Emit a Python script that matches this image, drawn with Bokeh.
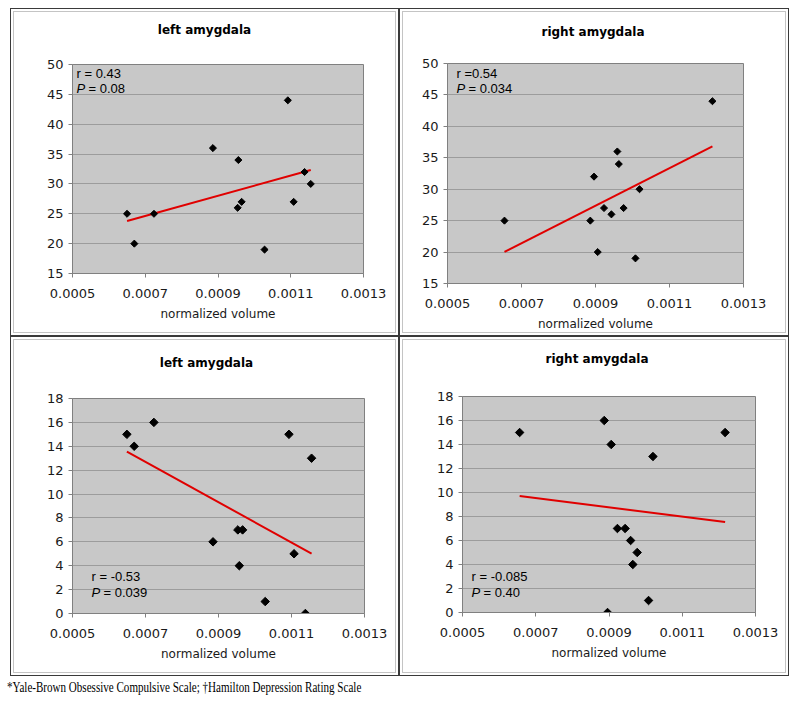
import numpy as np
from bokeh.plotting import figure
from bokeh.models import Range1d, FixedTicker, PrintfTickFormatter, Label, Div
from bokeh.layouts import column, row
from bokeh.embed import file_html
from bokeh.resources import INLINE

# ---------------- data ----------------
panel_titles = ["left amygdala", "right amygdala", "left amygdala", "right amygdala"]
x_axis_label = "normalized volume"
x_ticks = [0.0005, 0.0007, 0.0009, 0.0011, 0.0013]
ybocs_ticks = [15, 20, 25, 30, 35, 40, 45, 50]
hamd_ticks = [0, 2, 4, 6, 8, 10, 12, 14, 16, 18]

# Y-BOCS vs left amygdala volume
left_vol_ybocs = [0.000650, 0.000670, 0.000724, 0.000886, 0.000954, 0.000956,
                  0.000965, 0.001028, 0.001092, 0.001108, 0.001138, 0.001155]
left_ybocs = [25, 20, 25, 36, 26, 34, 27, 19, 44, 27, 32, 30]

# Y-BOCS vs right amygdala volume
right_vol_ybocs = [0.000654, 0.000886, 0.000896, 0.000906, 0.000923, 0.000943,
                   0.000959, 0.000963, 0.000976, 0.001008, 0.001019, 0.001216]
right_ybocs = [25, 25, 32, 20, 27, 26, 36, 34, 27, 19, 30, 44]

# HAM-D vs left amygdala volume
left_vol_hamd = [0.000649, 0.000669, 0.000723, 0.000885, 0.000953, 0.000957,
                 0.000966, 0.001028, 0.001093, 0.001107, 0.001138, 0.001155]
left_hamd = [15, 14, 16, 6, 7, 4, 7, 1, 15, 5, 0, 13]

# HAM-D vs right amygdala volume
right_vol_hamd = [0.000656, 0.000887, 0.000896, 0.000906, 0.000923, 0.000944,
                  0.000959, 0.000965, 0.000977, 0.001008, 0.001020, 0.001217]
right_hamd = [15, 16, 0, 14, 7, 7, 6, 4, 5, 1, 13, 15]

r_texts = ["r = 0.43", "r =0.54", "r = -0.53", "r = -0.085"]
p_texts = ["= 0.08", "= 0.034", "= 0.039", "= 0.40"]

footer_text = "*Yale-Brown Obsessive Compulsive Scale; \u2020Hamilton Depression Rating Scale"

# ---------------- styling ----------------
FRAME_BG = "#c8c8c8"
GRID = "#9c9c9c"
AXIS = "#808080"
TREND = "#e00000"
BOX_STYLE = {
    "outline": "1px solid #3a3a3a",
    "outline-offset": "-1px",
    "box-shadow": "inset 0 0 0 3px #ffffff, inset 0 0 0 4px #c4c4c4",
}
TITLE_H = 40


def make_panel(w, h, mb, xs, ys, yticks, title, title_dx, title_cy,
               r_txt, p_txt, corner, ann_dx, ann_dy1, ann_dy2, msize):
    ml, mr, mt, mbot = mb
    p = figure(width=w, height=h - TITLE_H, output_backend="svg", toolbar_location=None,
               x_range=Range1d(x_ticks[0], x_ticks[-1]),
               y_range=Range1d(yticks[0], yticks[-1]),
               min_border_left=ml, min_border_right=mr,
               min_border_top=mt - TITLE_H, min_border_bottom=mbot)
    p.border_fill_color = None
    p.background_fill_color = FRAME_BG
    p.outline_line_color = AXIS
    p.outline_line_width = 1

    p.xgrid.visible = False
    p.ygrid.grid_line_color = GRID
    p.ygrid.grid_line_width = 1

    p.xaxis.ticker = FixedTicker(ticks=x_ticks)
    p.xaxis.formatter = PrintfTickFormatter(format="%.4f")
    p.yaxis.ticker = FixedTicker(ticks=yticks)
    p.ygrid.ticker = FixedTicker(ticks=yticks)
    for ax in (p.xaxis, p.yaxis):
        ax.axis_line_color = AXIS
        ax.major_tick_line_color = AXIS
        ax.major_tick_out = 4
        ax.major_tick_in = 0
        ax.minor_tick_line_color = None
        ax.major_label_text_font = "DejaVu Sans"
        ax.major_label_text_font_size = "13px"
        ax.major_label_text_color = "#1a1a1a"
    p.yaxis.major_label_standoff = 5
    p.xaxis.major_label_standoff = 11
    p.xaxis.axis_label = x_axis_label
    p.xaxis.axis_label_text_font = "DejaVu Sans"
    p.xaxis.axis_label_text_font_size = "12px"
    p.xaxis.axis_label_text_font_style = "normal"
    p.xaxis.axis_label_text_color = "#1a1a1a"
    p.xaxis.axis_label_standoff = 6

    # trend line (least squares) over the data span
    coef = np.polyfit(np.array(xs), np.array(ys), 1)
    xfit = np.array([min(xs), max(xs)])
    p.line(xfit, np.polyval(coef, xfit), line_color=TREND, line_width=2)

    p.scatter(xs, ys, marker="square", angle=np.pi / 4, size=msize, color="black")

    if corner == "top":
        ya, s = yticks[-1], -1
    else:
        ya, s = yticks[0], 1
    common = dict(x=x_ticks[0], y=ya, text_font="Liberation Sans",
                  text_font_size="13px", text_baseline="middle",
                  text_align="left", text_color="black")
    p.add_layout(Label(x_offset=ann_dx, y_offset=s * ann_dy1, text=r_txt, **common))
    p.add_layout(Label(x_offset=ann_dx, y_offset=s * ann_dy2, text="P",
                       text_font_style="italic", **common))
    p.add_layout(Label(x_offset=ann_dx + 12, y_offset=s * ann_dy2, text=p_txt, **common))

    head = Div(text=('<div style="width:%dpx;height:%dpx;box-sizing:border-box;'
                     'padding-top:%dpx;text-align:center;position:relative;left:%dpx;'
                     'font-family:\'DejaVu Sans\',Verdana,sans-serif;font-weight:bold;'
                     'font-size:12px;line-height:14px;color:#000;white-space:nowrap;">%s</div>')
                    % (w, TITLE_H, title_cy - 7, title_dx, title),
               width=w, height=TITLE_H, margin=0)
    return column(head, p, styles=BOX_STYLE, margin=0, spacing=0)


c1 = make_panel(389, 328, (62, 36, 56, 63), left_vol_ybocs, left_ybocs, ybocs_ticks,
                panel_titles[0], 0, 22, r_texts[0], p_texts[0], "top", 4, 9, 24, 5)
c2 = make_panel(390, 328, (48, 46, 55, 53), right_vol_ybocs, right_ybocs, ybocs_ticks,
                panel_titles[1], -1, 24, r_texts[1], p_texts[1], "top", 9, 10, 25, 5)
c3 = make_panel(389, 340, (62, 35, 62, 63), left_vol_hamd, left_hamd, hamd_ticks,
                panel_titles[2], 2, 27, r_texts[2], p_texts[2], "bottom", 19, 37, 21, 6)
c4 = make_panel(390, 340, (63, 34, 60, 64), right_vol_hamd, right_hamd, hamd_ticks,
                panel_titles[3], 3, 23, r_texts[3], p_texts[3], "bottom", 9, 36, 20, 6)

footer = Div(text='<span style="display:inline-block;font-family:\'Liberation Serif\',\'Times New Roman\',serif;'
                  'font-size:14px;line-height:20px;white-space:nowrap;color:#000;'
                  'transform:scaleX(0.79);transform-origin:0 50%;">'
                  + footer_text + '</span>',
             width=780, height=20, margin=(2, 0, 0, -3))

layout = column(row(c1, c2), row(c3, c4), footer, margin=(8, 0, 0, 10))

open("out.html", "w").write(file_html(layout, INLINE))
